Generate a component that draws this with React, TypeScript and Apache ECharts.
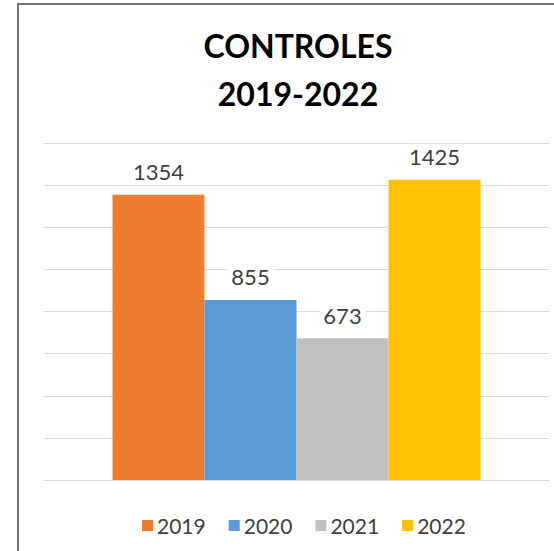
import React, { useEffect, useRef } from "react";
import * as echarts from "echarts";

const titleText = "CONTROLES\n2019-2022";
const categories = [""];
const seriesNames = ["2019", "2020", "2021", "2022"];
const seriesValues = [1354, 855, 673, 1425];
const seriesColors = ["#ED7D31", "#5B9BD5", "#BFBFBF", "#FFC000"];

export default function App() {
  const ref = useRef<HTMLDivElement>(null);
  useEffect(() => {
    document.body.style.margin = "0";
    const chart = echarts.init(ref.current!, undefined, { renderer: "svg" });
    chart.setOption({
      animation: false,
      backgroundColor: "#fff",
      title: {
        text: titleText,
        left: 293,
        textAlign: "center",
        top: 16,
        textStyle: {
          fontFamily: "Lato",
          fontSize: 32,
          fontWeight: "bold",
          color: "#000",
          lineHeight: 48,
        },
      },
      legend: {
        left: 137,
        top: 510,
        icon: "rect",
        itemWidth: 11,
        itemHeight: 11,
        itemGap: 23,
        data: seriesNames,
        textStyle: { fontFamily: "Lato", fontSize: 21, color: "#404040", padding: [0, 0, 0, -1] },
      },
      grid: { left: 44, right: 5, top: 143, bottom: 71, containLabel: false },
      xAxis: {
        type: "category",
        data: categories,
        axisLine: { show: true, lineStyle: { color: "#d9d9d9" } },
        axisTick: { show: false },
        axisLabel: { show: false },
      },
      yAxis: {
        type: "value",
        min: 0,
        max: 1600,
        interval: 200,
        axisLabel: { show: false },
        axisLine: { show: false },
        axisTick: { show: false },
        splitLine: { lineStyle: { color: "#d9d9d9", width: 1 } },
      },
      series: seriesNames.map((name, i) => ({
        name,
        type: "bar",
        data: [seriesValues[i]],
        barWidth: 92,
        barGap: "0%",
        itemStyle: { color: seriesColors[i] },
        label: {
          show: true,
          position: "top",
          distance: 10,
          fontFamily: "Lato",
          fontSize: 22,
          color: "#404040",
          backgroundColor: "#fff",
          padding: [2, 4],
        },
      })),
      graphic: [
        {
          type: "rect",
          z: 100,
          silent: true,
          shape: { x: 18, y: 4, width: 600, height: 600 },
          style: { fill: "none", stroke: "#707070", lineWidth: 2 },
        },
      ],
    });
    return () => chart.dispose();
  }, []);
  return <div ref={ref} style={{ width: 554, height: 551 }} />;
}
